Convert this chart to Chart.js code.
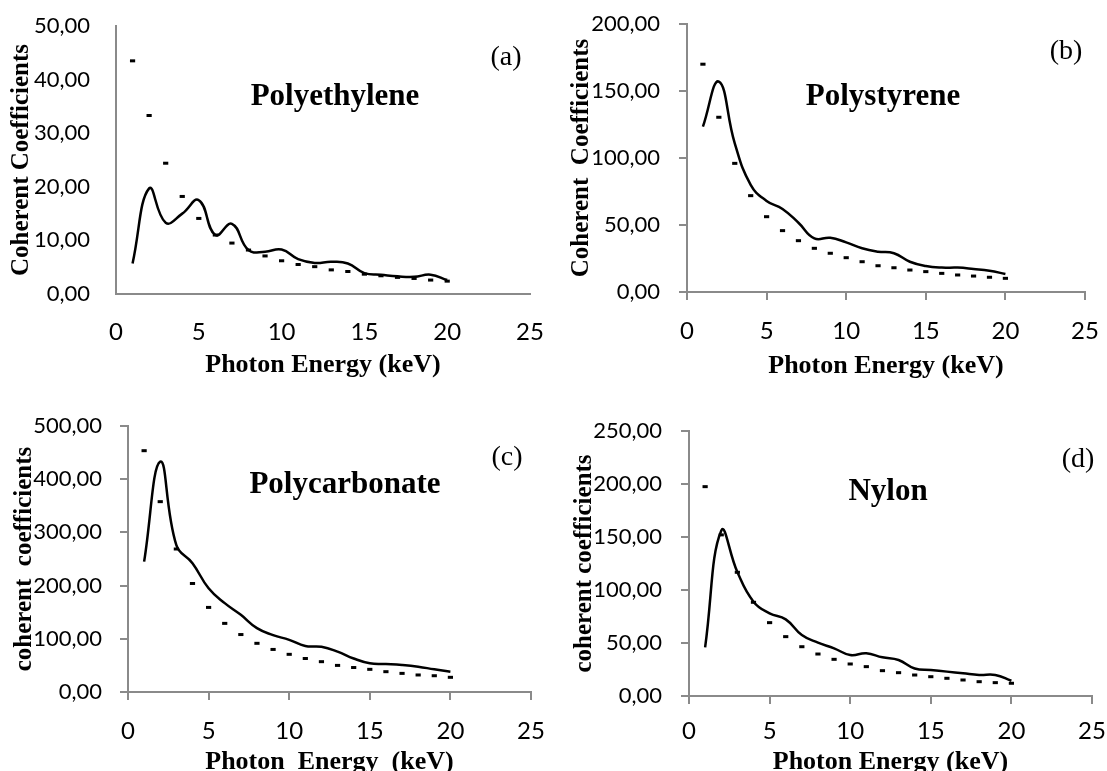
<!DOCTYPE html>
<html>
<head>
<meta charset="utf-8">
<script src="https://cdn.jsdelivr.net/npm/chart.js@4.4.0/dist/chart.umd.min.js"></script>
<style>
  html, body { margin: 0; padding: 0; background: #fff; overflow: hidden; }
  #quadro { position: relative; width: 1107px; height: 771px; }
  canvas { position: absolute; }
</style>
</head>
<body>
<div id="quadro">
  <canvas id="graficoA" width="553" height="385" style="left:0px;top:0px"></canvas>
  <canvas id="graficoB" width="554" height="385" style="left:553px;top:0px"></canvas>
  <canvas id="graficoC" width="553" height="405" style="left:0px;top:385px"></canvas>
  <canvas id="graficoD" width="554" height="405" style="left:553px;top:385px"></canvas>
</div>
<script>
// energia do foton (keV)
const energia = [1, 2, 3, 4, 5, 6, 7, 8, 9, 10, 11, 12, 13, 14, 15, 16, 17, 18, 19, 20]

// (a) Polyethylene
const polietilenoLinha = [5.7, 19.7, 13.3, 15.0, 17.5, 11.0, 13.1, 8.2, 7.9, 8.3, 6.5, 5.8, 6.0, 5.7, 3.9, 3.6, 3.3, 3.2, 3.6, 2.6]
const polietilenoPontos = [43.5, 33.3, 24.4, 18.2, 14.1, 11.0, 9.5, 8.2, 7.1, 6.2, 5.5, 5.1, 4.5, 4.2, 3.7, 3.4, 3.1, 2.9, 2.6, 2.4]

// (b) Polystyrene
const poliestirenoLinha = [123.4, 157, 111, 80, 68, 62, 51.7, 40, 40.5, 37, 32.6, 30.1, 28.9, 22.6, 19.4, 18.2, 18.2, 17.2, 15.9, 13.4]
const poliestirenoPontos = [170, 130.4, 96, 71.9, 56.2, 45.8, 38.3, 32.6, 28.9, 25.6, 22.6, 19.6, 18.1, 16.4, 15.2, 13.9, 12.7, 11.9, 11.0, 10.2]

// (c) Polycarbonate
const policarbonatoLinha = [245, 433, 276, 242, 195, 167, 145, 120, 107, 98, 86.5, 85, 76, 63, 54, 52.6, 50.8, 47.6, 42.6, 38.2]
const policarbonatoPontos = [453.6, 357.8, 268.8, 204, 159, 129, 108, 91.5, 80, 70.8, 63, 57, 50, 46, 42.6, 38.2, 35, 32, 30.6, 27.6]

// (d) Nylon
const nylonLinha = [45.9, 156, 117, 89, 78, 72.3, 57.5, 50.3, 45, 38.7, 40.3, 36.5, 34, 26, 24.5, 23, 21.4, 19.8, 19.8, 14.4]
const nylonPontos = [197.5, 152, 116.7, 88.4, 69.2, 56, 46.5, 39.6, 34.6, 30.2, 27.7, 23.9, 22, 19.8, 18.2, 16.7, 15.1, 13.5, 12.6, 12]

// eixos
const eixoXMax = [25, 25, 25, 25]
const eixoXPasso = [5, 5, 5, 5]
const eixoYMax = [50, 200, 500, 250]
const eixoYPasso = [10, 50, 100, 50]
const titulosY = ['Coherent Coefficients', 'Coherent  Coefficients', 'coherent  coefficients', 'coherent coefficients']
const titulosX = ['Photon Energy (keV)', 'Photon Energy (keV)', 'Photon  Energy  (keV)', 'Photon Energy (keV)']
const nomes = ['Polyethylene', 'Polystyrene', 'Polycarbonate', 'Nylon']
const letras = ['(a)', '(b)', '(c)', '(d)']

function formatarVirgula(v) {
    return v.toFixed(2).replace('.', ',')
}

const textosPlugin = {
    id: 'textos',
    afterDraw(chart, args, opts) {
        const ctx = chart.ctx
        ctx.save()
        ctx.fillStyle = '#000'
        ctx.textAlign = 'center'
        ctx.textBaseline = 'middle'
        ctx.font = 'bold 31px "Liberation Serif"'
        ctx.fillText(opts.nome, opts.nomeX, opts.nomeY)
        ctx.font = '28px "Liberation Serif"'
        ctx.fillText(opts.letra, opts.letraX, opts.letraY)
        ctx.restore()
    }
}

function plotarGrafico(canvasId, i, linha, pontos, caixa) {
    const canvas = document.getElementById(canvasId)
    const W = canvas.width
    const H = canvas.height

    const config = {
        type: 'line',
        data: {
            datasets: [
                {
                    label: 'linha',
                    data: energia.map((e, k) => ({ x: e, y: linha[k] })),
                    borderColor: '#000',
                    borderWidth: 2.5,
                    tension: 0.45,
                    pointRadius: 0,
                    fill: false
                },
                {
                    label: 'pontos',
                    data: energia.map((e, k) => ({ x: e, y: pontos[k] })),
                    showLine: false,
                    pointStyle: 'line',
                    pointRadius: 2.6,
                    pointBorderWidth: 3,
                    borderColor: '#000',
                    backgroundColor: '#000'
                }
            ]
        },
        options: {
            responsive: false,
            animation: false,
            devicePixelRatio: 1,
            layout: {
                padding: { left: 0, top: caixa.topo, right: W - caixa.dir, bottom: 0 }
            },
            plugins: {
                legend: { display: false },
                tooltip: { enabled: false },
                textos: {
                    nome: nomes[i], nomeX: caixa.nomeX, nomeY: caixa.nomeY,
                    letra: letras[i], letraX: caixa.letraX, letraY: caixa.letraY
                }
            },
            scales: {
                x: {
                    type: 'linear',
                    min: 0,
                    max: eixoXMax[i],
                    ticks: {
                        stepSize: eixoXPasso[i],
                        color: '#000',
                        padding: caixa.padTickX,
                        maxRotation: 0,
                        font: { family: 'Lato', size: 24 }
                    },
                    grid: {
                        drawOnChartArea: false,
                        drawTicks: caixa.marcas,
                        tickLength: 8,
                        color: '#8a8a8a',
                        lineWidth: 2
                    },
                    border: { color: '#8a8a8a', width: 2 },
                    title: {
                        display: true,
                        text: titulosX[i],
                        color: '#000',
                        font: { family: 'Liberation Serif', weight: 'bold', size: 26 },
                        padding: { top: 0, bottom: caixa.padTituloX }
                    },
                    afterFit: function (s) {
                        s.height = H - caixa.base
                        s.paddingLeft = 0
                        s.paddingRight = 0
                    }
                },
                y: {
                    min: 0,
                    max: eixoYMax[i],
                    ticks: {
                        stepSize: eixoYPasso[i],
                        color: '#000',
                        padding: caixa.padTickY,
                        font: { family: 'Lato', size: 22 },
                        callback: formatarVirgula
                    },
                    grid: {
                        drawOnChartArea: false,
                        drawTicks: caixa.marcas,
                        tickLength: 8,
                        color: '#8a8a8a',
                        lineWidth: 2
                    },
                    border: { color: '#8a8a8a', width: 2 },
                    title: {
                        display: true,
                        text: titulosY[i],
                        color: '#000',
                        font: { family: 'Liberation Serif', weight: 'bold', size: 25 },
                        padding: { top: caixa.padTituloY, bottom: 0 }
                    },
                    afterFit: function (s) {
                        s.width = caixa.esq
                        s.paddingTop = 0
                        s.paddingBottom = 0
                    }
                }
            }
        },
        plugins: [textosPlugin]
    }

    return new Chart(canvas, config)
}

plotarGrafico('graficoA', 0, polietilenoLinha, polietilenoPontos, {
    esq: 116, dir: 530, topo: 26, base: 294, marcas: false,
    padTickX: 24, padTickY: 26, padTituloX: 4, padTituloY: 7,
    nomeX: 335, nomeY: 97, letraX: 506, letraY: 58
})

plotarGrafico('graficoB', 1, poliestirenoLinha, poliestirenoPontos, {
    esq: 134, dir: 532, topo: 24, base: 292, marcas: true,
    padTickX: 17, padTickY: 19, padTituloX: 3, padTituloY: 14,
    nomeX: 330, nomeY: 97, letraX: 513, letraY: 52
})

plotarGrafico('graficoC', 2, policarbonatoLinha, policarbonatoPontos, {
    esq: 128, dir: 531, topo: 41, base: 307, marcas: true,
    padTickX: 17, padTickY: 18, padTituloX: 12, padTituloY: 10,
    nomeX: 345, nomeY: 100, letraX: 507, letraY: 73
})

plotarGrafico('graficoD', 3, nylonLinha, nylonPontos, {
    esq: 136, dir: 539, topo: 46, base: 311, marcas: true,
    padTickX: 13, padTickY: 19, padTituloX: 12, padTituloY: 17,
    nomeX: 335, nomeY: 107, letraX: 525, letraY: 75
})
</script>
</body>
</html>
